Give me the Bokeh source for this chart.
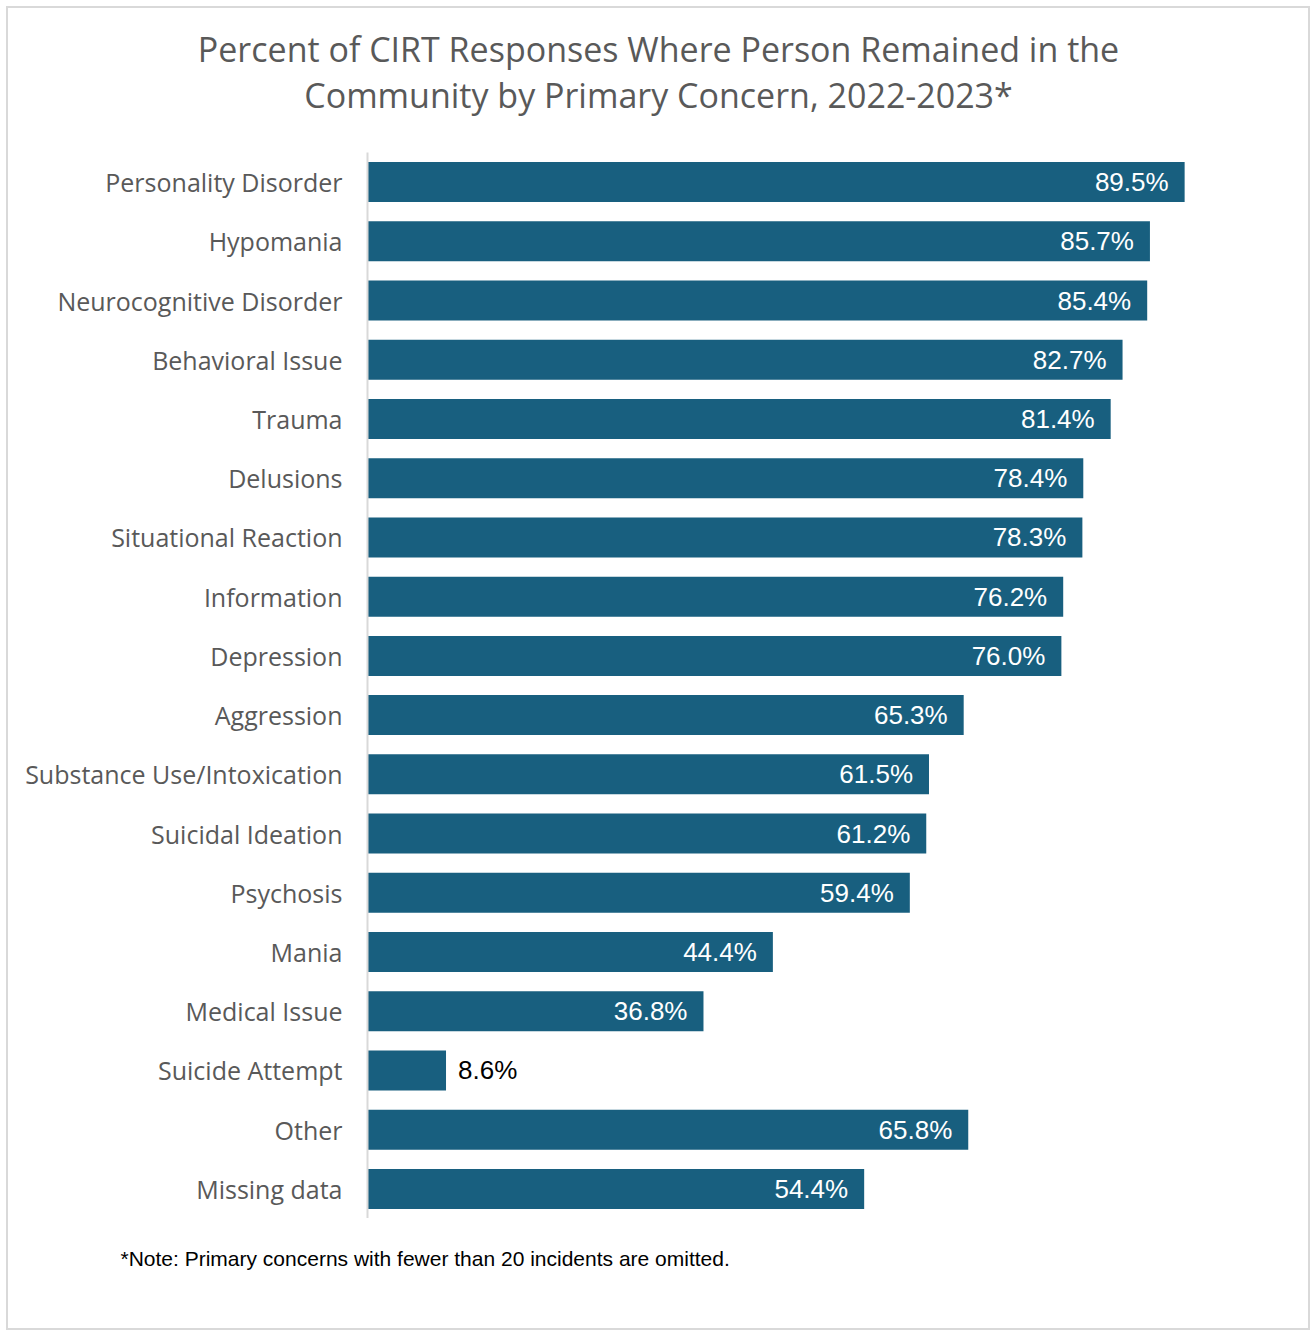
from bokeh.plotting import figure
from bokeh.layouts import column
from bokeh.models import ColumnDataSource, FactorRange, Range1d
from bokeh.core.properties import value
from bokeh.embed import file_html
from bokeh.resources import INLINE

categories = ["Personality Disorder", "Hypomania", "Neurocognitive Disorder", "Behavioral Issue",
              "Trauma", "Delusions", "Situational Reaction", "Information", "Depression",
              "Aggression", "Substance Use/Intoxication", "Suicidal Ideation", "Psychosis",
              "Mania", "Medical Issue", "Suicide Attempt", "Other", "Missing data"]
values = [89.5, 85.7, 85.4, 82.7, 81.4, 78.4, 78.3, 76.2, 76.0,
          65.3, 61.5, 61.2, 59.4, 44.4, 36.8, 8.6, 65.8, 54.4]
title_lines = ["Percent of CIRT Responses Where Person Remained in the",
               "Community by Primary Concern, 2022-2023*"]
note = "*Note: Primary concerns with fewer than 20 incidents are omitted."

BAR = "#185F7F"
GRAY = "#595959"
W = 1300


def blank(height):
    f = figure(width=W, height=height, output_backend="svg", toolbar_location=None,
               x_range=Range1d(0, W), y_range=Range1d(0, height),
               x_axis_location=None, y_axis_location=None, min_border=0,
               frame_align=False)
    f.outline_line_color = None
    f.grid.visible = False
    f.title.visible = False
    return f


# header with the two-line title
header = blank(144)
header.text(x=[650, 650], y=[104, 58], text=title_lines, text_align="center",
            text_baseline="middle", text_font=value("Open Sans"), text_font_size="34px",
            text_color=GRAY)

# main chart
labels = [f"{v:.1f}%" for v in values]
inside = [v >= 15 for v in values]
src_in = ColumnDataSource(dict(
    y=[c for c, i in zip(categories, inside) if i],
    x=[v for v, i in zip(values, inside) if i],
    t=[l for l, i in zip(labels, inside) if i]))
src_out = ColumnDataSource(dict(
    y=[c for c, i in zip(categories, inside) if not i],
    x=[v for v, i in zip(values, inside) if not i],
    t=[l for l, i in zip(labels, inside) if not i]))
src = ColumnDataSource(dict(y=categories, x=values))

p = figure(width=W, height=1066, output_backend="svg", toolbar_location=None,
           y_range=FactorRange(factors=categories[::-1], range_padding=0),
           x_range=Range1d(0, 100), x_axis_location=None,
           min_border_left=359, min_border_right=28, min_border_top=0, min_border_bottom=0,
           frame_align=False)
p.outline_line_color = None
p.grid.visible = False
p.title.visible = False

p.hbar(y="y", right="x", left=0, height=0.675, source=src, fill_color=BAR, line_color=None)
p.text(x="x", y="y", text="t", source=src_in, x_offset=-16, text_align="right",
       text_baseline="middle", text_color="white", text_font_size="26px",
       text_font=value("Liberation Sans"))
p.text(x="x", y="y", text="t", source=src_out, x_offset=12, text_align="left",
       text_baseline="middle", text_color="black", text_font_size="26px",
       text_font=value("Liberation Sans"))

ax = p.yaxis[0]
ax.axis_line_color = "#d9d9d9"
ax.axis_line_width = 2
ax.major_tick_line_color = None
ax.minor_tick_line_color = None
ax.major_label_standoff = 19
ax.major_label_text_font = "Open Sans"
ax.major_label_text_font_size = "25px"
ax.major_label_text_color = GRAY

# footer with the note
footer = blank(110)
footer.text(x=[112], y=[70], text=[note], text_align="left", text_baseline="middle",
            text_font=value("Liberation Sans"), text_font_size="21px", text_color="black")

layout = column(header, p, footer, spacing=0, margin=(6, 0, 0, 6),
                styles={"border": "2px solid #d9d9d9"})

open("out.html", "w").write(file_html(layout, INLINE))
